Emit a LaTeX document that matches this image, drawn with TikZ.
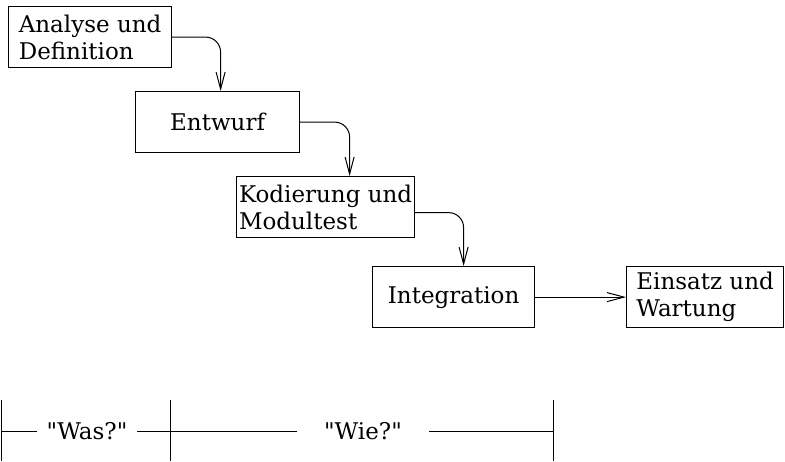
\documentclass[tikz,border=0pt]{standalone}
\usepackage{fontspec}
\setmainfont{DejaVu Serif}[Ligatures=TeXOff]
\usetikzlibrary{arrows.meta}

\begin{document}
\begin{tikzpicture}[
    x=0.5pt, y=-0.5pt,
    phase/.style={rectangle, draw=black, line width=0.6pt, minimum height=30.5pt, inner sep=0pt, align=left, anchor=north west, font=\fontsize{11.5}{13.5}\selectfont},
    arrow/.style={line width=0.5pt, -{Straight Barb[length=8.5pt,width=4.5pt]}, rounded corners=7.5pt},
    span/.style={inner sep=0pt, font=\fontsize{11.5}{13.5}\selectfont},
    bar/.style={line width=0.5pt},
]
\useasboundingbox (0,0) rectangle (785,461);

% Phases
\node[phase, minimum width=81.5pt] (analyse) at (8,6) {Analyse und\\Definition};
\node[phase, minimum width=82pt] (entwurf) at (135,91) {Entwurf};
\node[phase, minimum width=89pt] (kodierung) at (236,176) {Kodierung und\\Modultest};
\node[phase, minimum width=81pt] (integration) at (372,266) {Integration};
\node[phase, minimum width=78.5pt] (einsatz) at (626,266) {Einsatz und\\Wartung};

% Arrows between phases
\draw[arrow] (analyse.east) -| ([xshift=1.5pt]entwurf.north);
\draw[arrow] (entwurf.east) -| ([xshift=12pt]kodierung.north);
\draw[arrow] ([yshift=-2.75pt]kodierung.east) -| ([xshift=5pt]integration.north);
\draw[arrow] (integration) -- (einsatz);

% Timeline
\node[span, minimum width=50pt] (was) at (87,431) {"Was?"};
\node[span, minimum width=66pt] (wie) at (363,431) {"Wie?"};
\coordinate (t0) at (1.5,431);
\coordinate (t1) at (170,431);
\coordinate (t2) at (553,431);
\foreach \t in {t0,t1,t2}
    \draw[bar] ([yshift=15.5pt]\t) -- ([yshift=-15pt]\t);
\draw[line width=0.5pt] (t0) -- (was);
\draw[line width=0.5pt] (was) -- (wie);
\draw[line width=0.5pt] (wie) -- (t2);

\end{tikzpicture}
\end{document}
